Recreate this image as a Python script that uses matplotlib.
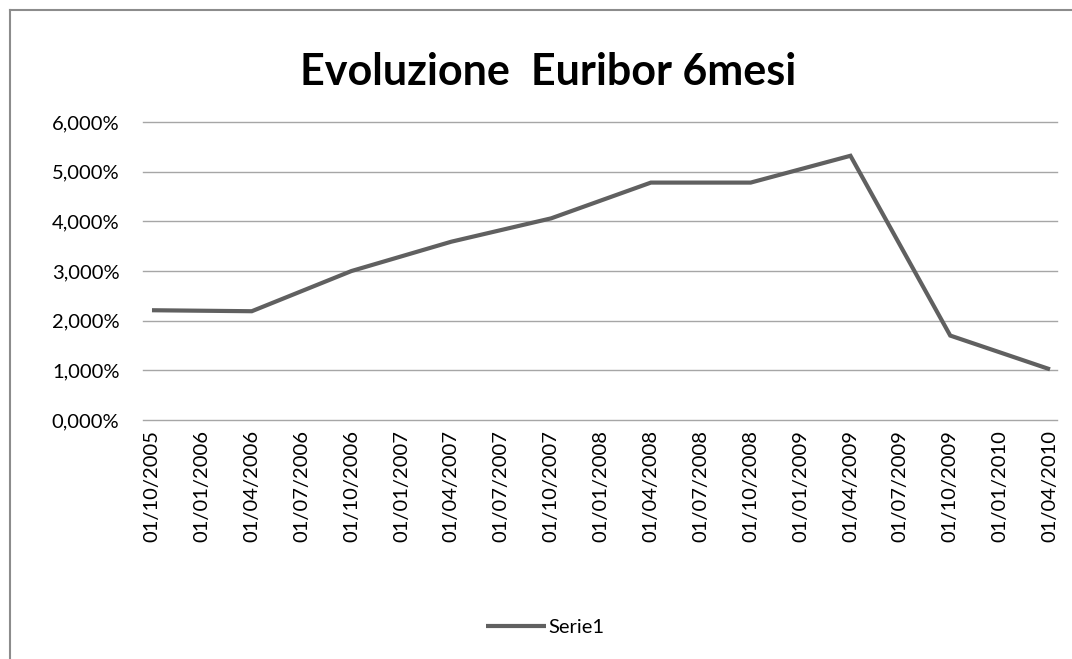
import matplotlib
matplotlib.use("Agg")
import matplotlib.pyplot as plt
from matplotlib.lines import Line2D
from matplotlib.ticker import FuncFormatter

# quarterly category labels (Excel style)
dates = ["01/10/2005", "01/01/2006", "01/04/2006", "01/07/2006", "01/10/2006",
         "01/01/2007", "01/04/2007", "01/07/2007", "01/10/2007", "01/01/2008",
         "01/04/2008", "01/07/2008", "01/10/2008", "01/01/2009", "01/04/2009",
         "01/07/2009", "01/10/2009", "01/01/2010", "01/04/2010"]
# data only every six months
point_idx = [0, 2, 4, 6, 8, 10, 12, 14, 16, 18]
euribor = [0.0221, 0.0219, 0.0300, 0.0359, 0.0406, 0.0478, 0.0478, 0.0532, 0.0170, 0.0102]

W, H = 1072, 659
fig = plt.figure(figsize=(W / 100, H / 100), dpi=100)
plt.rcParams['font.family'] = ['Lato', 'DejaVu Sans']

# outer chart border (left and top edges visible)
fig.add_artist(Line2D([10 / W, 10 / W], [0, 1 - 10 / H], color="#8c8c8c", lw=1.5))
fig.add_artist(Line2D([10 / W, 1], [1 - 10 / H, 1 - 10 / H], color="#8c8c8c", lw=1.5))

ax = fig.add_axes([143 / W, 1 - 420 / H, (1057 - 143) / W, (420 - 122) / H])
ax.plot(point_idx, euribor, color="#606060", lw=3.0, solid_joinstyle="miter",
        solid_capstyle="butt", label="Serie1", zorder=3)

ax.set_ylim(0, 0.06)
ax.set_xlim(-0.18, 18.14)
ax.set_yticks([0, 0.01, 0.02, 0.03, 0.04, 0.05, 0.06])
ax.yaxis.set_major_formatter(FuncFormatter(lambda v, p: f"{v * 100:.3f}%".replace(".", ",")))
ax.set_xticks(range(len(dates)))
ax.set_xticklabels(dates, rotation=90, va="top", ha="center")
ax.tick_params(axis="both", length=0, labelsize=14.5, colors="#000000")
ax.tick_params(axis="x", pad=7)
ax.tick_params(axis="y", pad=17)
ax.grid(axis="y", color="#a6a6a6", lw=1.0)
for gl in ax.get_ygridlines():
    gl.set_clip_on(False)
ax.set_axisbelow(True)
for s in ax.spines.values():
    s.set_visible(False)

fig.text(548 / W, 1 - 72 / H, "Evoluzione  Euribor 6mesi", ha="center", va="center",
         fontsize=31, fontweight="bold")

leg = fig.legend(loc="center", bbox_to_anchor=(545 / W, 1 - 627 / H), frameon=False,
                 fontsize=14.5, handlelength=3.0, handletextpad=0.1)

fig.savefig("out.png", dpi=100, facecolor="white")
